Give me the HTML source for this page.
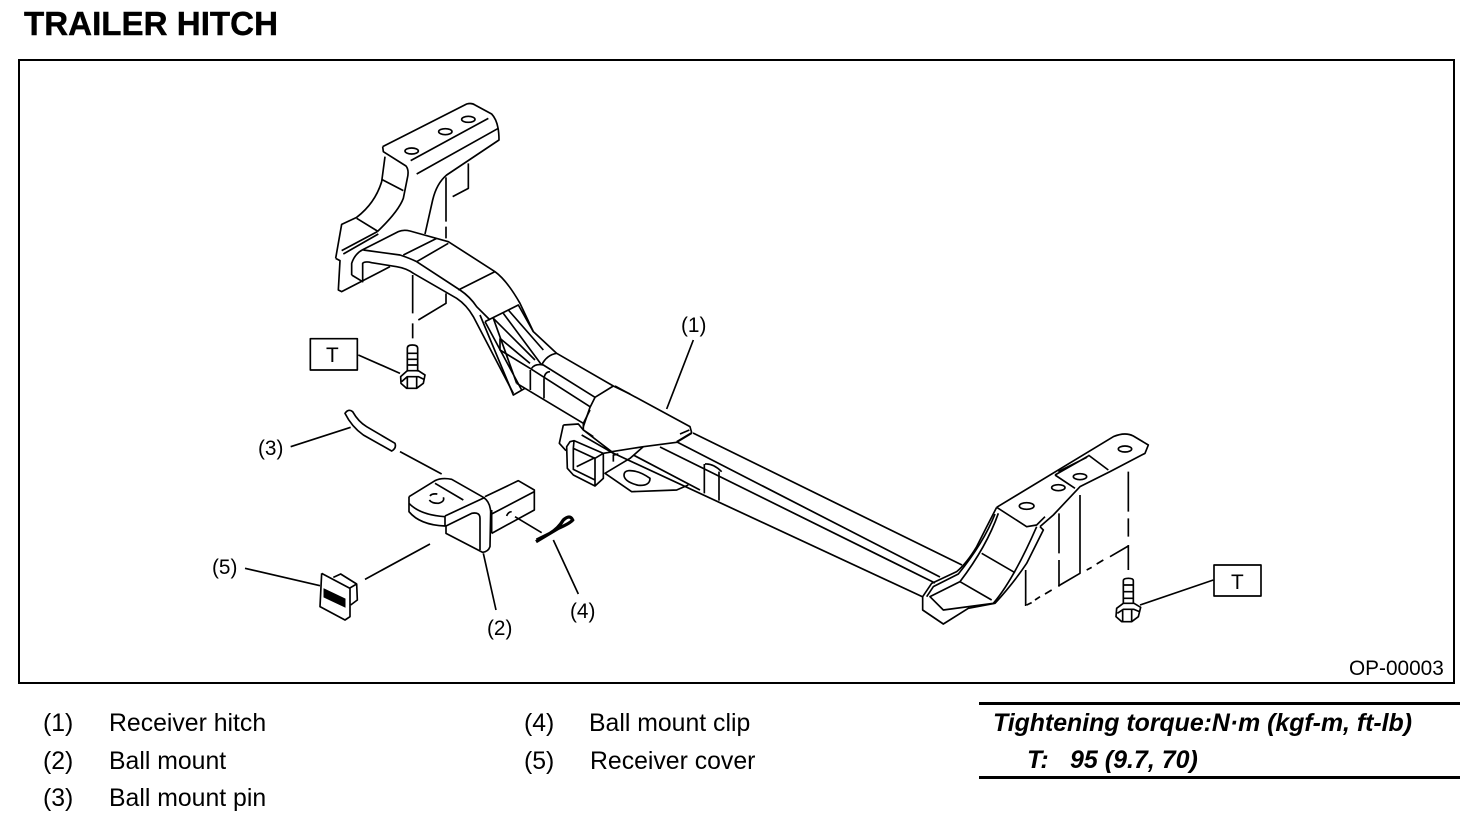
<!DOCTYPE html>
<html><head><meta charset="utf-8"><style>
html,body{margin:0;padding:0;background:#fff}
svg{display:block}
text{font-family:"Liberation Sans",sans-serif;fill:#000}
.d path,.d rect,.d ellipse{fill:none;stroke:#000;stroke-width:5;stroke-linejoin:round}
.l{font-size:24.8px}.n{font-size:20.8px}
.b{font-size:25px;font-weight:bold;font-style:italic}
</style></head><body>
<svg width="1472" height="838" viewBox="0 0 1472 838" xmlns="http://www.w3.org/2000/svg">
<rect width="1472" height="838" fill="#fff"/>
<text x="24" y="35" font-size="33" font-weight="bold" textLength="254" lengthAdjust="spacingAndGlyphs" stroke="#000" stroke-width=".4">TRAILER HITCH</text>
<rect x="19" y="60" width="1435" height="623" fill="none" stroke="#000" stroke-width="2"/>

<g class="d" transform="translate(300,90) scale(.33333)">
<path d="M248 170L500 42Q515 38 525 45L575 72Q597 95 597 150L440 255Q410 280 398 330L375 432"/>
<path d="M248 170L250 185L318 228Q328 240 322 265L310 325Q295 365 232 425"/>
<path d="M255 200L245 275Q225 340 170 382L125 403L107 505"/>
<path d="M245 268L310 302M170 385L232 423M332 212L565 85M350 252L595 115"/>
<ellipse cx="335" cy="183" rx="20" ry="9"/><ellipse cx="436" cy="125" rx="20" ry="9"/><ellipse cx="505" cy="88" rx="20" ry="9"/>
<path d="M438 262V395M438 410V445"/>
<path d="M505 220V295L458 320"/>
<path d="M125 482L232 425M130 492L235 432"/>
<path d="M107 505L120 512L115 600L125 605L270 530"/>
<path d="M155 555V520Q165 490 190 478L295 425Q310 418 330 423L445 455L585 545Q620 570 660 640L700 725"/>
<path d="M155 555L188 575V520Q195 513 215 518L290 530Q320 535 340 550L470 625Q500 645 520 680L640 910"/>
<path d="M190 480L300 495Q330 505 350 515L480 600Q510 620 530 650L570 690"/>
<path d="M310 495L410 445M350 515L445 460M475 600L585 545"/>
<path d="M338 555V670M438 610V640L355 690M338 700V745"/>
<rect x="31" y="746" width="141" height="94"/>
<path d="M175 795L300 850"/>
<path d="M322 845V775Q322 765 337 765Q353 765 353 775V845M322 790H353M322 808H353M322 825H353"/>
<path d="M302 860L322 842H355L375 855L370 880L350 895H320L303 880ZM305 875L322 860H355L372 868M322 860V893M350 860V893"/>
</g>

<!-- left tube -->
<g class="d" transform="translate(480,300) scale(.33333)">
<path d="M15 65L115 15L160 95L230 160L400 258L450 282"/>
<path d="M0 45L100 285L135 265M15 65L125 270M40 55L110 250"/>
<path d="M40 55L165 180M70 40L185 195M85 30L190 150"/>
<path d="M185 195Q200 165 230 160"/>
<path d="M155 205Q165 190 190 195L345 292M192 235Q195 215 210 215M60 115V150L150 205L330 320M60 115L150 190"/>
<path d="M110 250L310 370M151 210V270M192 235V295"/>
<path d="M400 258L345 292L330 322L310 380"/>
</g>

<!-- cover plate and leader -->
<g class="d" transform="translate(530,310) scale(.33333)">
<path d="M255 228L480 350L485 368L440 395"/>
<path d="M410 297L490 90M450 372L478 360"/>
<path d="M523 462V550M567 485V572M525 462Q550 460 575 485"/>
</g>

<!-- receiver -->
<g class="d" transform="translate(550,410) scale(.33333)">
<path d="M40 45L28 100L48 122M40 45L85 42L100 60L100 40L120 0"/>
<path d="M60 95L72 92L160 130V205L135 228L70 195L52 175L50 110ZM72 92L70 115L135 145L160 130M135 145V228M70 115V178L135 210M80 170L135 143"/>
<path d="M100 60L130 80M95 75L190 130M100 60L185 125L280 110L380 97L425 70"/>
<path d="M280 110L240 145L165 190L245 245L380 240L415 225"/>
<path d="M190 155V135L205 132M160 130L190 125"/>
<path d="M235 182Q265 180 300 205Q300 228 265 226Q222 215 222 195Q222 184 235 182Z"/>
<path d="M250 135L450 240"/>
</g>

<path d="M693 433L962 565M677 442L940 577M660 447L935 583M613 453L923 597" fill="none" stroke="#000" stroke-width="1.7"/>

<g class="d" transform="translate(880,420) scale(.33333)">
<path d="M350 262L700 50Q735 35 760 48L805 75L795 100L690 155L600 200L520 285L480 320"/>
<path d="M350 262L440 320L470 315L495 290M625 105L685 150M525 165L585 205M525 165L625 108M535 155L620 112"/>
<ellipse cx="735" cy="87" rx="20" ry="9"/><ellipse cx="600" cy="170" rx="20" ry="9"/><ellipse cx="535" cy="203" rx="20" ry="9"/><ellipse cx="440" cy="258" rx="22" ry="10"/>
<path d="M350 262Q320 320 290 380Q260 430 230 455L155 490L128 530V570L190 612L265 565L345 550Q400 490 440 430L490 330L480 320"/>
<path d="M355 280Q320 380 240 485L150 530L190 570L340 550Q400 480 470 320M345 282Q310 370 235 462L160 500L140 530"/>
<path d="M305 400L405 458M240 485L335 540"/>
<path d="M745 155V275M745 295V350M745 375V450"/>
<path d="M745 378L690 410M670 420L650 432M635 442L620 450"/>
<path d="M600 225V460L535 498M515 510L495 522M480 530L465 540M455 548L440 555"/>
<path d="M537 280V400M537 420V500M437 450V558"/>
<rect x="1002" y="435" width="141" height="93"/>
<path d="M780 555L1000 480"/>
<path d="M730 550V482Q730 475 745 475Q760 475 760 482V550M730 495H760M730 515H760M730 535H760"/>
<path d="M710 565L730 550H762L782 562L775 590L755 605H725L708 590ZM712 580L730 568H762L778 575M728 568V603M755 568V603"/>
</g>

<g class="d" transform="translate(200,390) scale(.33333)">
<path d="M435 70Q445 55 458 65Q475 95 500 110L585 160Q590 175 575 183L490 135Q455 110 435 70Z"/>
<path d="M272 170L452 112M600 185L725 252"/>
<path d="M627 320L705 272Q725 262 755 268L850 322Q870 335 872 365L870 470Q865 485 848 487L738 430V405"/>
<path d="M627 320V365Q660 405 735 408V380Q660 375 627 340M735 378L855 322M738 408L815 370Q840 365 840 385V480M705 280L790 330"/>
<path d="M690 318Q695 310 712 312M730 322Q735 335 715 340Q695 340 688 330"/>
<path d="M855 320L955 272L1003 300V360L875 430M875 372L1003 305M875 360V430"/>
<path d="M920 378Q925 365 935 365M945 380L1025 428"/>
<path d="M1060 450L1135 612M850 490L888 660M135 535L360 587M495 568L690 462"/>
</g>

<!-- receiver cover -->
<g class="d" transform="translate(310,560) scale(.33333)">
<path d="M35 40L30 140L105 180L120 170V85L35 40M118 85L140 72L142 120L122 135M70 52L92 42L140 72"/>
</g>
<path d="M324 589L345 599V607L324 597Z" fill="#000" stroke="#000"/>

<!-- clip -->
<g transform="translate(520,500) scale(.33333)">
<path d="M48 125Q90 100 115 85Q150 70 158 60Q150 42 130 60Q115 85 90 100L50 120" fill="none" stroke="#000" stroke-width="10"/>
</g>

<text class="n" x="681" y="332">(1)</text>
<text class="n" x="487" y="635">(2)</text>
<text class="n" x="258" y="455">(3)</text>
<text class="n" x="570" y="618">(4)</text>
<text class="n" x="212" y="574">(5)</text>
<text class="n" x="326" y="362">T</text>
<text class="n" x="1231" y="589">T</text>
<text class="n" x="1349" y="675">OP-00003</text>

<text class="l" x="43" y="731">(1)</text><text class="l" x="109" y="731">Receiver hitch</text>
<text class="l" x="43" y="769">(2)</text><text class="l" x="109" y="769">Ball mount</text>
<text class="l" x="43" y="806">(3)</text><text class="l" x="109" y="806">Ball mount pin</text>
<text class="l" x="524" y="731">(4)</text><text class="l" x="589" y="731">Ball mount clip</text>
<text class="l" x="524" y="769">(5)</text><text class="l" x="590" y="769">Receiver cover</text>

<rect x="979" y="702" width="481" height="3" fill="#000"/>
<rect x="979" y="776" width="481" height="3" fill="#000"/>
<text class="b" x="993" y="731" textLength="419" lengthAdjust="spacingAndGlyphs">Tightening torque:N·m (kgf-m, ft-lb)</text>
<text class="b" x="1027" y="768">T:</text>
<text class="b" x="1070" y="768">95 (9.7, 70)</text>
</svg>
</body></html>
